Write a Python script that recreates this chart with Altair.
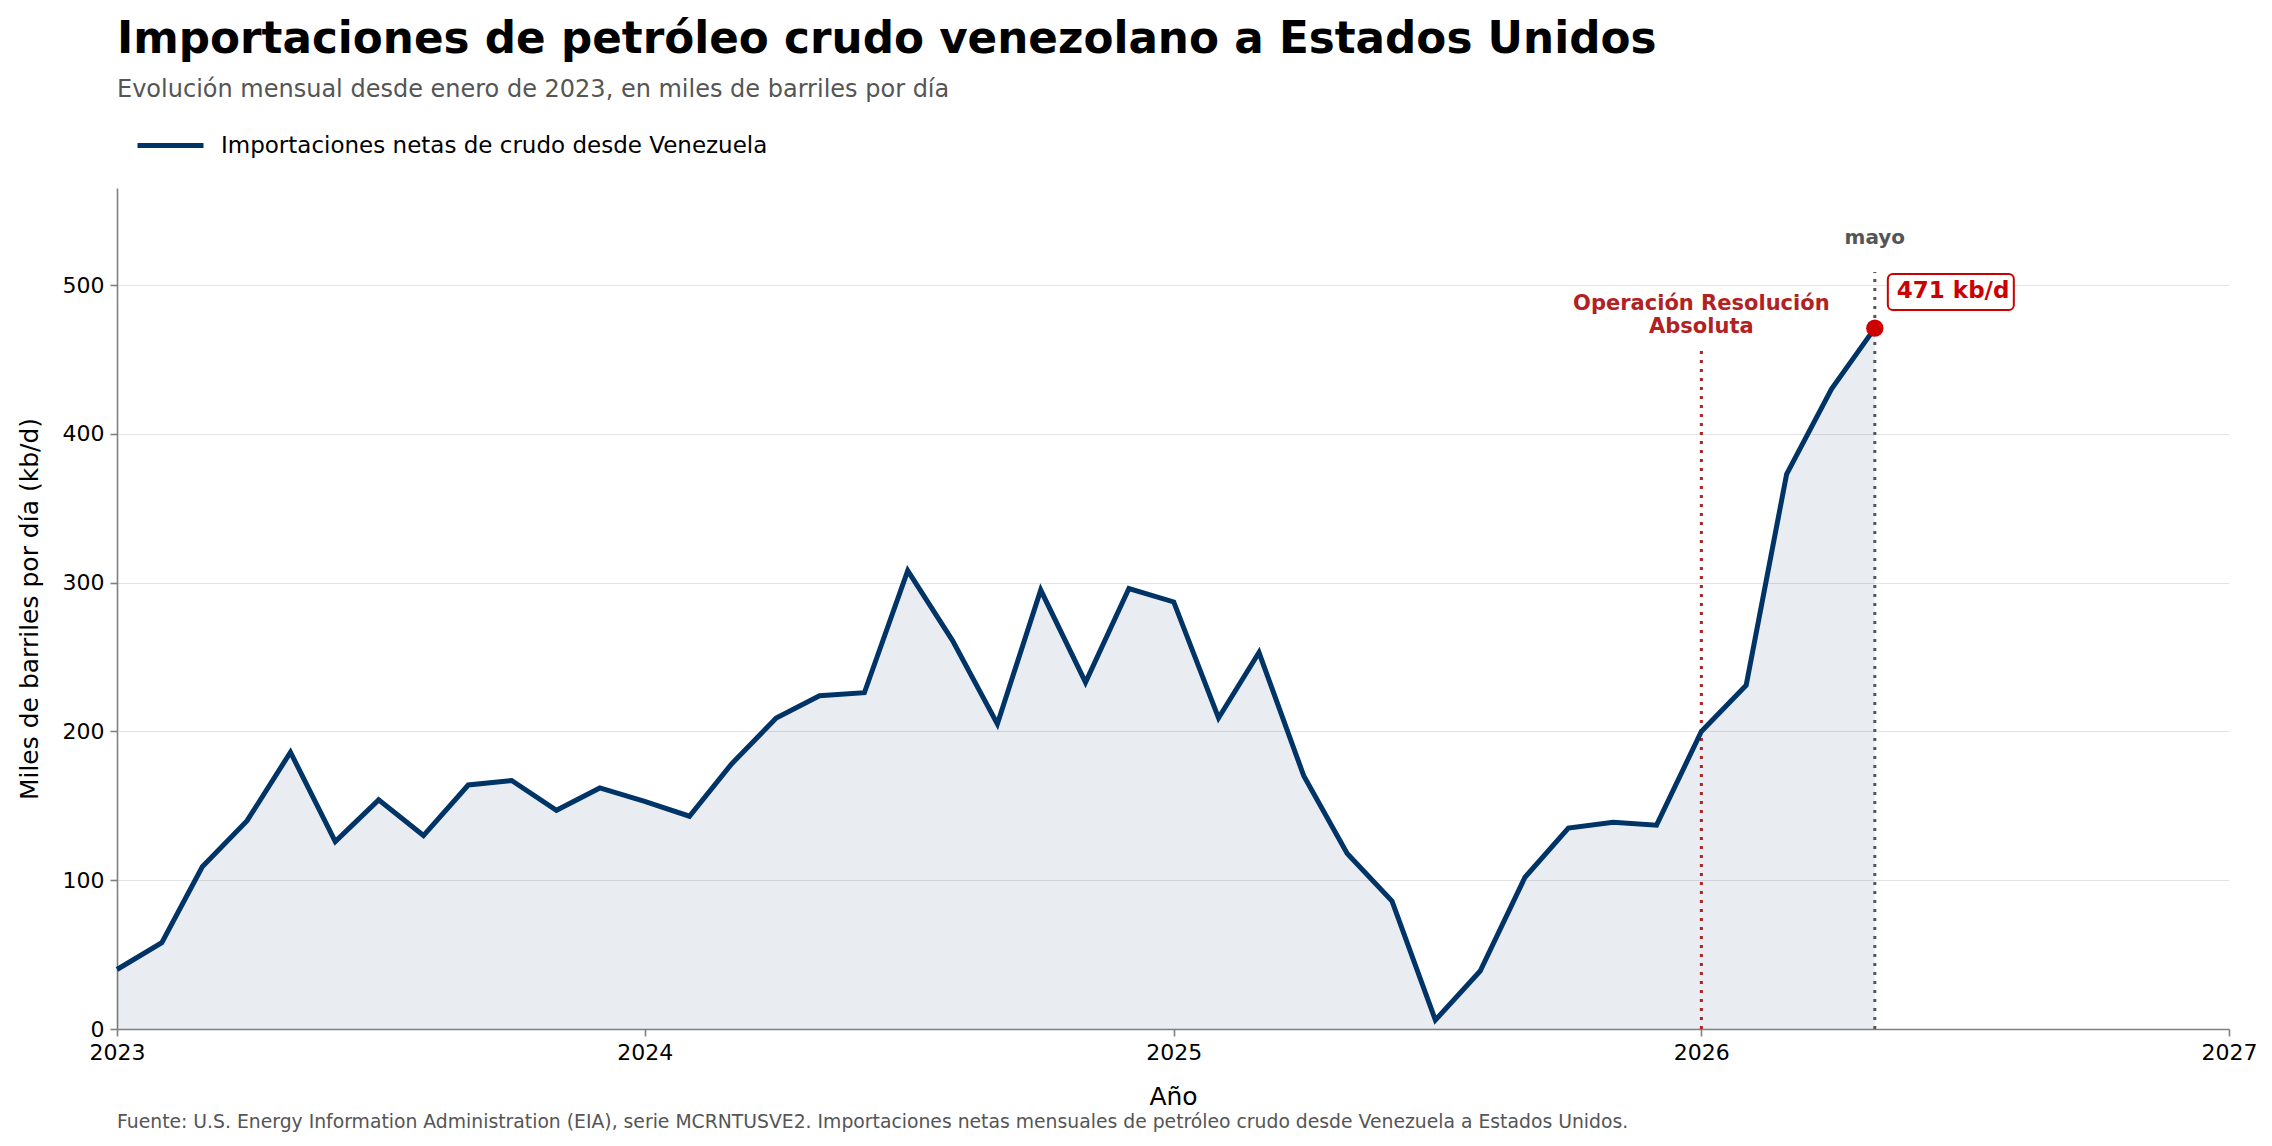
import altair as alt
import pandas as pd

# ---------------- data ----------------
title_text = "Importaciones de petróleo crudo venezolano a Estados Unidos"
subtitle_text = "Evolución mensual desde enero de 2023, en miles de barriles por día"
series_name = "Importaciones netas de crudo desde Venezuela"
footer_text = ("Fuente: U.S. Energy Information Administration (EIA), serie MCRNTUSVE2. "
               "Importaciones netas mensuales de petróleo crudo desde Venezuela a Estados Unidos.")
x_title = "Año"
y_title = "Miles de barriles por día (kb/d)"

values_2023 = [40, 58, 109, 140, 186, 126, 154, 130, 164, 167, 147, 162]
values_2024 = [153, 143, 178, 209, 224, 226, 308, 261, 205, 295, 233, 296]
values_2025 = [287, 209, 253, 170, 118, 86, 6, 39, 102, 135, 139, 137]
values_2026 = [200, 231, 373, 430, 471]
imports = values_2023 + values_2024 + values_2025 + values_2026
months = pd.date_range("2023-01-01", periods=len(imports), freq="MS").strftime("%Y-%m-%d").tolist()

year_ticks = [2023, 2024, 2025, 2026, 2027]
y_ticks = [0, 100, 200, 300, 400, 500]
y_max = 565.2

event_date = "2026-01-01"
event_label = ["Operación Resolución", "Absoluta"]
event_top = 457.8
event_label_y = 487

latest_date = "2026-05-01"
latest_value = 471
latest_top = 508.7
latest_month_label = "mayo"
latest_month_y = 531.6
latest_value_label = "471 kb/d"
latest_label_y = 496

# ---------------- tables ----------------
df = pd.DataFrame({"fecha": months, "valor": imports, "serie": series_name})
event_df = pd.DataFrame({"fecha": [event_date], "base": [0], "top": [event_top],
                         "ly": [event_label_y], "label": ["\n".join(event_label)]})
latest_df = pd.DataFrame({"fecha": [latest_date], "base": [0], "top": [latest_top],
                          "valor": [latest_value], "my": [latest_month_y], "mlabel": [latest_month_label],
                          "ly": [latest_label_y], "vlabel": [latest_value_label]})
footer_df = pd.DataFrame({"t": [footer_text]})

NAVY = "#003366"
RED = "#cc0000"
DARKRED = "#b22222"
GREY = "#555555"

x_scale = alt.Scale(type="utc",
                    domain=[alt.DateTime(year=year_ticks[0], month=1, date=1, utc=True),
                            alt.DateTime(year=year_ticks[-1], month=1, date=1, utc=True)])
y_scale = alt.Scale(domain=[0, y_max], nice=False, zero=True)

x_axis = alt.Axis(values=[alt.DateTime(year=y, month=1, date=1, utc=True) for y in year_ticks],
                  format="%Y", formatType="utc", title=x_title, grid=False, labelFlush=False,
                  tickSize=7, labelPadding=6, titlePadding=21)
y_axis = alt.Axis(values=y_ticks, title=y_title, grid=True, tickSize=7, labelPadding=6,
                  titlePadding=20)

X = alt.X("fecha:T", scale=x_scale, axis=x_axis)
Xn = alt.X("fecha:T", scale=x_scale)

area = alt.Chart(df).mark_area(color=NAVY, opacity=0.085).encode(
    x=X, y=alt.Y("valor:Q", scale=y_scale, axis=y_axis))

event_rule = alt.Chart(event_df).mark_rule(color=DARKRED, strokeWidth=3, strokeDash=[3, 6]).encode(
    x=Xn, y=alt.Y("base:Q", scale=y_scale), y2="top:Q")
latest_rule = alt.Chart(latest_df).mark_rule(color=GREY, strokeWidth=3, strokeDash=[3, 6]).encode(
    x=Xn, y=alt.Y("base:Q", scale=y_scale), y2="top:Q")

line = alt.Chart(df).mark_line(strokeWidth=5).encode(
    x=Xn, y=alt.Y("valor:Q", scale=y_scale),
    color=alt.Color("serie:N", scale=alt.Scale(domain=[series_name], range=[NAVY]),
                    legend=alt.Legend(title=None, orient="none", legendX=18, legendY=-78,
                                      symbolType="stroke", symbolSize=4356, symbolStrokeWidth=5,
                                      labelFontSize=23, labelColor="black", labelOffset=15,
                                      labelLimit=2000, padding=0)))

point = alt.Chart(latest_df).mark_circle(size=300, color=RED, opacity=1).encode(
    x=Xn, y=alt.Y("valor:Q", scale=y_scale))

box = alt.Chart(latest_df).mark_rect(fill="white", stroke=RED, strokeWidth=2, cornerRadius=5,
                                     xOffset=13, x2Offset=139, yOffset=-17, y2Offset=19).encode(
    x=Xn, x2="fecha:T", y=alt.Y("ly:Q", scale=y_scale), y2="ly:Q")

value_text = alt.Chart(latest_df).mark_text(align="left", baseline="middle", dx=22, fontSize=23,
                                            fontWeight="bold", color=RED).encode(
    x=Xn, y=alt.Y("ly:Q", scale=y_scale), text="vlabel:N")

month_text = alt.Chart(latest_df).mark_text(align="center", baseline="middle", fontSize=20,
                                            fontWeight="bold", color=GREY).encode(
    x=Xn, y=alt.Y("my:Q", scale=y_scale), text="mlabel:N")

event_text = alt.Chart(event_df).mark_text(align="center", baseline="middle", fontSize=21,
                                           fontWeight="bold", color=DARKRED, lineBreak="\n",
                                           lineHeight=23).encode(
    x=Xn, y=alt.Y("ly:Q", scale=y_scale), text="label:N")

footer = alt.Chart(footer_df).mark_text(align="left", baseline="middle", fontSize=18.8,
                                        color=GREY).encode(
    x=alt.value(0), y=alt.value(934), text="t:N")

chart = alt.layer(area, event_rule, latest_rule, line, point, box, value_text, month_text,
                  event_text, footer).properties(
    width=2112, height=841,
    title=alt.TitleParams(text=title_text, subtitle=subtitle_text, anchor="start", frame="group",
                          fontSize=43.7, fontWeight="bold", color="black",
                          subtitleFontSize=24, subtitleColor=GREY, subtitlePadding=16,
                          offset=8),
    autosize=alt.AutoSizeParams(type="none"),
    padding={"left": 109, "top": 180, "right": 35, "bottom": 105},
).configure(font="DejaVu Sans").configure_view(stroke=None).configure_axis(
    domainColor="#808080", domainWidth=1.6, tickColor="#808080", tickWidth=1.6,
    labelFontSize=22, labelColor="black", titleFontSize=25, titleFontWeight="normal",
    titleColor="black", gridColor="#e3e3e3", gridWidth=1,
)

chart.save("out.html", embed_options={"renderer": "svg", "actions": False})
